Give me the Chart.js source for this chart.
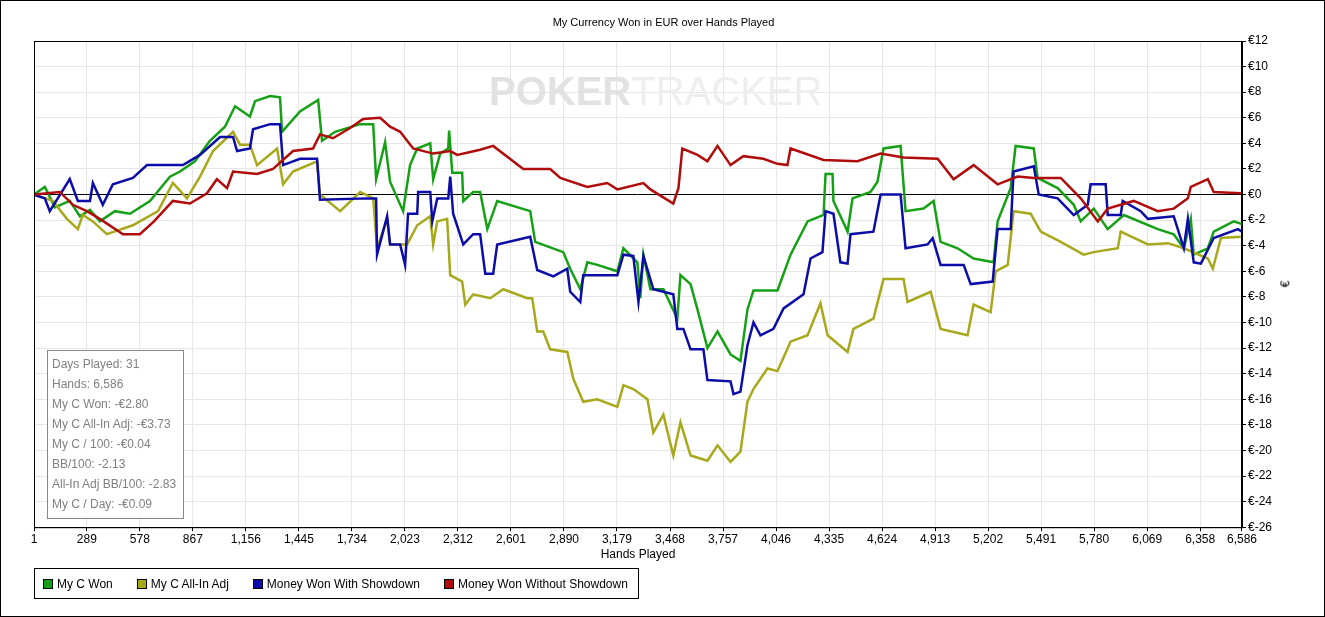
<!DOCTYPE html>
<html><head><meta charset="utf-8">
<script src="https://cdn.jsdelivr.net/npm/chart.js@4/dist/chart.umd.min.js"></script>
<style>
html,body{margin:0;padding:0;background:#fff;}
#wrap{position:relative;width:1325px;height:617px;box-sizing:border-box;border:1px solid #000;overflow:hidden;font-family:"Liberation Sans",sans-serif;}
#c{position:absolute;left:0;top:0;}
#title{position:absolute;top:15px;left:0;width:1325px;text-align:center;font-size:11px;color:#000;}
#wm{position:absolute;top:68px;left:488px;font-size:40px;font-weight:bold;letter-spacing:0px;font-family:"Liberation Sans",sans-serif;white-space:nowrap;}
#wm .a{color:#e2e2e2;} #wm .b{color:#eeeeee;font-weight:normal;}
#ytitle{position:absolute;left:1281px;top:276px;font-size:12px;transform:rotate(-90deg);}
#stats{position:absolute;left:46px;top:349px;width:137px;height:169px;border:1px solid #888;background:rgba(255,255,255,0.9);font-size:12px;color:#808080;box-sizing:border-box;padding:3px 0 0 4px;line-height:20px;white-space:nowrap;}
#legend{position:absolute;left:33px;top:567px;width:605px;height:31px;border:1px solid #000;box-sizing:border-box;font-size:12px;color:#000;display:flex;align-items:center;white-space:nowrap;}
.li{display:flex;align-items:center;margin-left:8px;margin-right:16px;}
.sw{width:8px;height:8px;border:1px solid #000;margin-right:4px;}
</style></head><body>
<div id="wrap">
<canvas id="c" width="1325" height="617"></canvas>
<div id="wm"><span class="a">POKER</span><span class="b">TRACKER</span></div>
<div id="title">My Currency Won in EUR over Hands Played</div>
<div id="ytitle">€</div>
<div id="stats">Days Played: 31<br>Hands: 6,586<br>My C Won: -€2.80<br>My C All-In Adj: -€3.73<br>My C / 100: -€0.04<br>BB/100: -2.13<br>All-In Adj BB/100: -2.83<br>My C / Day: -€0.09</div>
<div id="legend">
<div class="li"><div class="sw" style="background:#16a016"></div>My C Won</div>
<div class="li"><div class="sw" style="background:#a8a81c"></div>My C All-In Adj</div>
<div class="li"><div class="sw" style="background:#0c0ca8"></div>Money Won With Showdown</div>
<div class="li"><div class="sw" style="background:#b00c0c"></div>Money Won Without Showdown</div>
</div>
</div>
<script>
const xTicks=[1,289,578,867,1156,1445,1734,2023,2312,2601,2890,3179,3468,3757,4046,4335,4624,4913,5202,5491,5780,6069,6358,6586];

const wonHands=[0,60,115,196,251,306,360,442,524,633,742,797,878,960,1042,1097,1178,1206,1288,1342,1353,1451,1550,1571,1642,1779,1850,1866,1915,1942,2013,2051,2090,2161,2177,2215,2259,2264,2281,2335,2341,2395,2433,2472,2526,2706,2733,2886,2924,2979,3017,3072,3181,3214,3290,3306,3323,3361,3432,3508,3525,3580,3618,3672,3727,3798,3852,3890,3923,4054,4125,4218,4305,4316,4354,4359,4436,4463,4561,4599,4632,4725,4752,4850,4905,4943,5036,5123,5232,5254,5325,5352,5451,5472,5581,5669,5707,5778,5854,5942,6127,6214,6269,6307,6323,6400,6432,6541,6586];
const wonVals=[0,0.6,-1,-0.5,-1.7,-1.2,-2.1,-1.3,-1.5,-0.5,1.4,1.8,2.6,4.2,5.3,6.9,6.1,7.3,7.7,7.6,4.9,6.5,7.4,4.2,4.9,5.5,5.5,1.2,4.1,1,-1.3,2.3,3.6,4,1.2,3.2,3.6,5,1.7,1.7,-0.5,0.2,0.2,-2.7,-0.5,-1.3,-3.7,-4.5,-5.8,-7.4,-5.3,-5.5,-6,-4.2,-5.3,-8.1,-4.7,-7.4,-7.4,-9.7,-6.3,-7,-9,-12,-10.7,-12.5,-13,-9,-7.5,-7.5,-4.7,-2.1,-1.6,1.6,1.6,-0.5,-2.9,-0.3,0.2,1,3.6,3.8,-1.3,-1.1,-0.5,-3.7,-4.2,-5,-5.3,-2.1,0.5,3.8,3.6,1.3,0.5,-0.8,-2.1,-1.1,-2.7,-1.6,-2.7,-3.1,-4.2,-1.9,-4.7,-4.2,-2.9,-2.1,-2.3];

const adjHands=[0,104,180,240,267,322,398,540,677,758,835,906,977,1086,1124,1178,1217,1326,1359,1413,1544,1560,1670,1779,1850,1871,1926,1942,2035,2090,2161,2177,2199,2253,2270,2335,2352,2395,2488,2559,2690,2717,2744,2777,2815,2908,2941,2995,3072,3181,3214,3268,3345,3377,3432,3486,3525,3580,3672,3727,3798,3852,3890,3923,3999,4054,4125,4218,4288,4327,4436,4468,4577,4632,4741,4763,4889,4943,5090,5123,5216,5243,5309,5341,5434,5489,5598,5723,5778,5909,5925,6073,6182,6269,6400,6427,6471,6580];
const adjVals=[0,-0.5,-1.9,-2.7,-1.6,-2.1,-3.1,-2.4,-1.3,0.9,-0.3,1.4,3.4,4.9,3.9,3.9,2.3,3.6,0.8,1.8,2.6,0,-1.3,0.2,-0.3,-4.2,-1.9,-3.9,-3.9,-2.4,-1.7,-3.9,-2.1,-1.9,-6.3,-6.8,-8.6,-7.8,-8.1,-7.4,-8.1,-8.1,-10.7,-10.7,-12.1,-12.3,-14.4,-16.2,-16,-16.6,-14.9,-15.2,-16,-18.6,-17.2,-20.4,-17.8,-20.4,-20.8,-19.6,-20.9,-20.1,-16.2,-15.2,-13.6,-13.8,-11.5,-11,-8.5,-11,-12.3,-10.5,-9.7,-6.6,-6.6,-8.4,-7.6,-10.5,-11,-8.6,-9.2,-6,-5.5,-1.3,-1.5,-2.9,-3.7,-4.7,-4.5,-4.2,-2.9,-3.9,-3.8,-4.2,-5,-5.8,-3.4,-3.3];

const sdHands=[0,60,87,196,240,306,322,376,431,540,617,813,906,1015,1086,1108,1178,1195,1288,1342,1359,1451,1544,1560,1817,1866,1871,1926,1942,1997,2024,2040,2090,2095,2161,2172,2199,2259,2270,2286,2341,2395,2433,2461,2504,2526,2706,2744,2832,2908,2924,2979,2995,3181,3214,3268,3296,3323,3377,3486,3508,3541,3580,3650,3672,3798,3814,3852,3890,3923,3961,4032,4087,4196,4234,4299,4316,4359,4397,4436,4452,4577,4616,4725,4752,4872,4900,4943,5069,5107,5227,5254,5325,5341,5451,5478,5581,5669,5745,5761,5843,5854,5925,5936,6034,6073,6214,6269,6291,6323,6362,6432,6564,6586];
const sdVals=[0,-0.3,-1.3,1.2,-0.5,-0.5,0.9,-0.8,0.8,1.3,2.3,2.3,3.1,4.5,4.5,3.4,3.6,5.1,5.5,5.5,2.3,2.8,2.8,-0.4,-0.3,-0.3,-4.7,-1.7,-3.9,-3.9,-5.5,-1.5,-1.5,0.2,0.2,-2.1,-0.3,-0.3,1.4,-1.5,-3.9,-3.1,-3.1,-6.2,-6.2,-3.9,-3.3,-5.9,-6.4,-5.8,-7.6,-8.4,-6.3,-6.3,-4.7,-4.8,-8.4,-4.8,-7.4,-7.8,-10.5,-10.5,-12.1,-12.1,-14.5,-14.6,-15.6,-15.4,-11.8,-10,-11,-10.5,-8.9,-7.8,-5,-4.5,-1.3,-1.5,-5.3,-5.4,-3.1,-2.9,0,0,-4.2,-3.9,-3.4,-5.5,-5.5,-7,-6.8,-2.7,-2.7,1.8,2.2,0,-0.3,-1.6,-0.8,0.8,0.8,-1.6,-1.6,-0.5,-1.3,-1.9,-1.7,-4.2,-1.9,-5.3,-5.4,-3.4,-2.7,-2.9];

const nsdHands=[0,142,213,289,360,486,578,655,758,851,944,998,1053,1086,1217,1304,1413,1522,1560,1631,1724,1795,1888,1942,1997,2068,2177,2270,2308,2433,2504,2613,2668,2815,2870,3017,3126,3181,3323,3361,3486,3514,3535,3618,3672,3727,3798,3868,3977,4054,4108,4125,4305,4490,4616,4741,4927,5014,5123,5254,5363,5451,5598,5707,5800,5854,5996,6127,6214,6291,6307,6400,6432,6580];
const nsdVals=[0,0.2,-0.8,-1.3,-1.9,-3.1,-3.1,-2.1,-0.5,-0.7,0.1,1.2,0.5,1.8,1.6,2,3.4,3.6,4.7,4.4,5.2,5.9,6,5.3,4.9,3.6,3.2,3.4,3.1,3.5,3.8,2.6,2,2,1.3,0.6,0.9,0.4,0.9,0.4,-0.7,0.5,3.6,3.1,2.6,3.8,2.3,3,2.8,2.4,2.3,3.6,2.7,2.6,3.2,2.9,2.8,1.2,2.3,0.8,1.4,1.3,1.3,-0.3,-2.1,-1.1,-0.5,-1.3,-1.1,-0.3,0.6,1.2,0.2,0.1];

function pts(h,v){return h.map((x,i)=>({x:x,y:v[i]}));}
const series=[
 {label:'Money Won Without Showdown',h:nsdHands,v:nsdVals,c:'#b00c0c'},
 {label:'Money Won With Showdown',h:sdHands,v:sdVals,c:'#0c0ca8'},
 {label:'My C All-In Adj',h:adjHands,v:adjVals,c:'#a8a81c'},
 {label:'My C Won',h:wonHands,v:wonVals,c:'#16a016'}
];
const F={size:12,family:'Liberation Sans'};
new Chart(document.getElementById('c'),{
 type:'line',
 data:{datasets:series.map(s=>({label:s.label,data:pts(s.h,s.v),borderColor:s.c,backgroundColor:s.c,borderWidth:2.5,pointRadius:0,tension:0,fill:false}))},
 options:{
  responsive:false,animation:false,
  layout:{padding:{left:33,top:40,right:52,bottom:52}},
  plugins:{legend:{display:false},tooltip:{enabled:false}},
  scales:{
   x:{type:'linear',min:1,max:6586,
      afterBuildTicks:a=>{a.ticks=xTicks.map(v=>({value:v}));},
      ticks:{autoSkip:false,maxRotation:0,color:'#000',font:F,padding:1,callback:v=>v.toLocaleString('en-US')},
      grid:{color:'#e6e6e6',tickLength:4,tickColor:'#000'},border:{color:'#000'},
      title:{display:true,text:'Hands Played',color:'#000',font:F,padding:{top:0}}},
   y:{position:'right',min:-26,max:12,
      ticks:{stepSize:2,color:'#000',font:F,padding:2,callback:v=>'€'+v},
      grid:{color:c=>c.tick&&c.tick.value===0?'#000':'#e6e6e6',lineWidth:1,tickLength:4,tickColor:'#000'},border:{color:'#000'}}
  }
 },
 plugins:[{id:'frame',afterDraw(ch){const a=ch.chartArea,x=ch.ctx;x.save();x.strokeStyle='#000';x.lineWidth=1;x.strokeRect(a.left+0.5,a.top+0.5,a.right-a.left,a.bottom-a.top);x.restore();}}]
});
</script>
</body></html>
